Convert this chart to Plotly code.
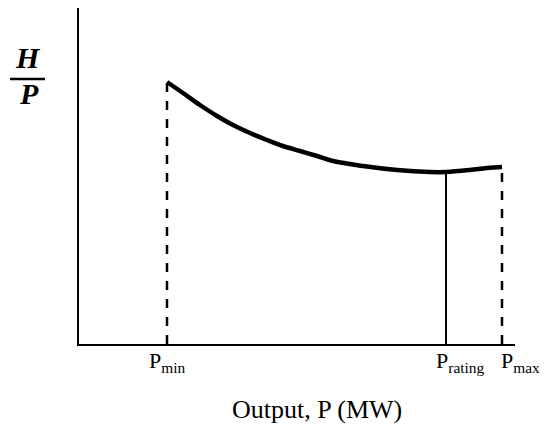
import plotly.graph_objects as go

# Output P (arbitrary MW units) and heat-rate H/P (arbitrary units)
p_curve = [88, 104, 121, 138, 154, 171, 188, 204, 221, 238, 254, 284, 318, 351, 367, 391, 408, 423]
hp_curve = [262, 251, 239, 228, 219, 211, 204, 198, 193, 188, 183, 178, 174, 172, 172, 174, 176, 177]

p_min = 88
p_rating = 367
p_max = 423
hp_at_rating = 172

tick_vals = [p_min, p_rating + 14, p_max + 18]
tick_text = ["P<sub>min</sub>", "P<sub>rating</sub>", "P<sub>max</sub>"]

X_RANGE = 436
Y_RANGE = 336

fig = go.Figure()

fig.add_trace(go.Scatter(x=p_curve, y=hp_curve, mode="lines",
                         line=dict(color="black", width=4.5, shape="spline", smoothing=1.0),
                         showlegend=False, hoverinfo="skip"))
fig.add_trace(go.Scatter(x=[p_min, p_min], y=[0, hp_curve[0]], mode="lines",
                         line=dict(color="black", width=2.5, dash="dash"),
                         showlegend=False, hoverinfo="skip"))
fig.add_trace(go.Scatter(x=[p_max, p_max], y=[0, hp_curve[-1]], mode="lines",
                         line=dict(color="black", width=2.5, dash="dash"),
                         showlegend=False, hoverinfo="skip"))
fig.add_trace(go.Scatter(x=[p_rating, p_rating], y=[0, hp_at_rating], mode="lines",
                         line=dict(color="black", width=2),
                         showlegend=False, hoverinfo="skip"))

serif = "Liberation Serif"

for v, t in zip(tick_vals, tick_text):
    fig.add_annotation(x=v / X_RANGE, y=-0.005, xref="paper", yref="paper", text=t,
                       showarrow=False, xanchor="center", yanchor="top",
                       font=dict(family=serif, size=22, color="black"))

fig.add_annotation(x=(317 - 79) / X_RANGE, y=(344 - 409) / Y_RANGE, xref="paper", yref="paper",
                   text="Output, P (MW)", showarrow=False, xanchor="center", yanchor="middle",
                   font=dict(family=serif, size=26, color="black"))

fig.add_annotation(x=(28 - 79) / X_RANGE, y=(344 - 57) / Y_RANGE, xref="paper", yref="paper",
                   text="<b><i>H</i></b>", showarrow=False, xanchor="center", yanchor="middle",
                   font=dict(family=serif, size=30, color="black"))
fig.add_annotation(x=(29 - 79) / X_RANGE, y=(344 - 93) / Y_RANGE, xref="paper", yref="paper",
                   text="<b><i>P</i></b>", showarrow=False, xanchor="center", yanchor="middle",
                   font=dict(family=serif, size=30, color="black"))
fig.add_shape(type="line", xref="paper", yref="paper",
              x0=(10 - 79) / X_RANGE, x1=(45 - 79) / X_RANGE,
              y0=(344 - 79) / Y_RANGE, y1=(344 - 79) / Y_RANGE,
              line=dict(color="black", width=2.5))

fig.update_xaxes(range=[0, X_RANGE], showline=True, linecolor="black", linewidth=2,
                 showgrid=False, zeroline=False, showticklabels=False, ticks="")
fig.update_yaxes(range=[0, Y_RANGE], showline=True, linecolor="black", linewidth=2,
                 showgrid=False, zeroline=False, showticklabels=False, ticks="")

# page body has an 8px margin: compensate so the plot lands where the reference has it
fig.update_layout(width=541, height=416, margin=dict(l=71, r=34, t=0, b=80),
                  plot_bgcolor="white", paper_bgcolor="white")

fig.write_html("out.html")
